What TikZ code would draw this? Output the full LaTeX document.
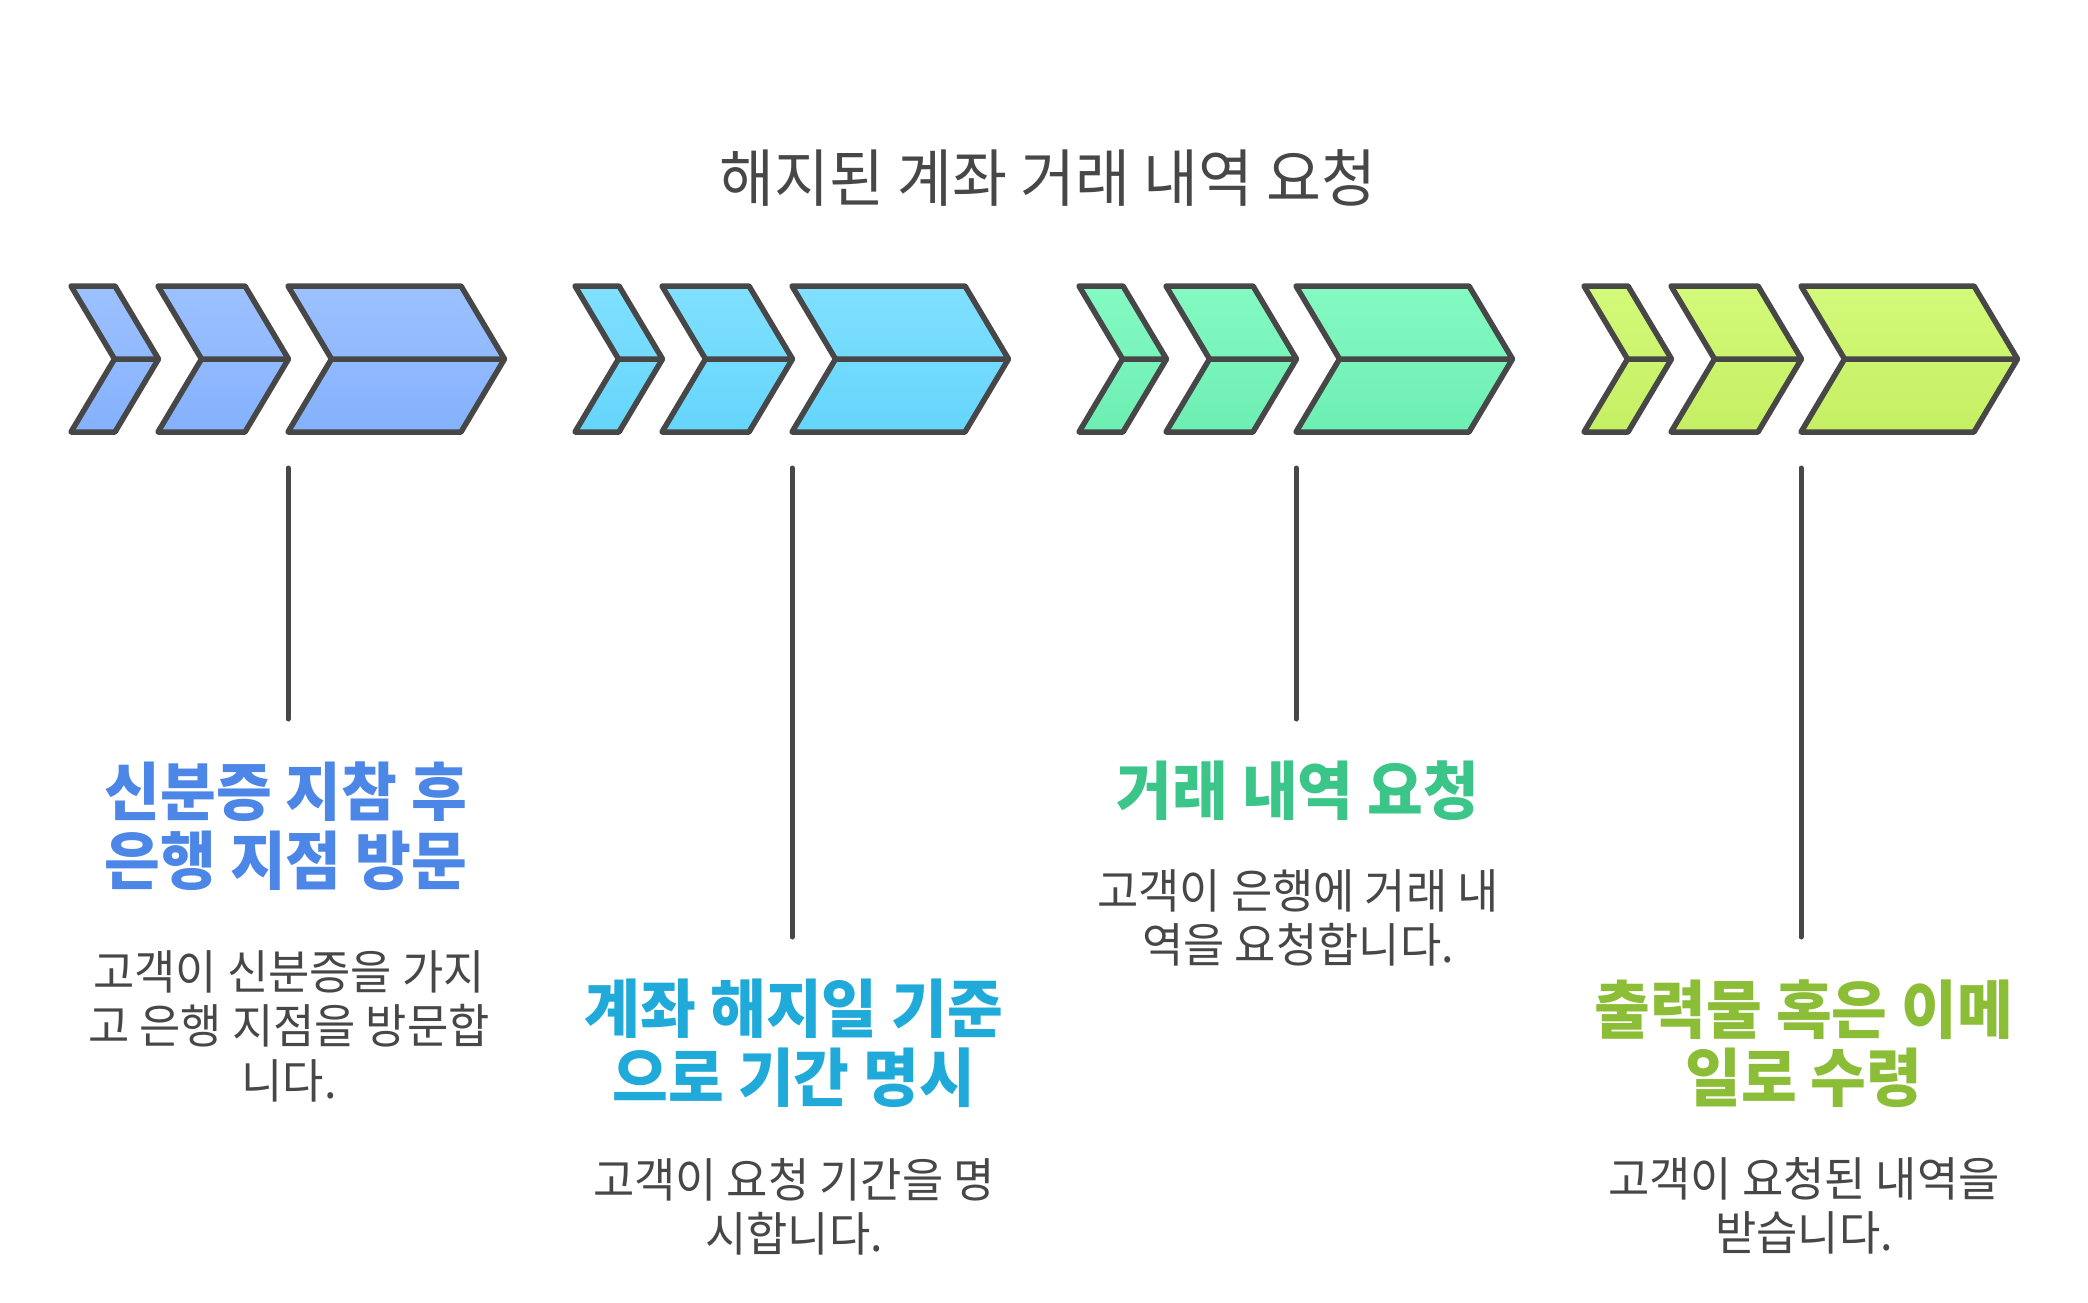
\documentclass[tikz,border=0pt]{standalone}
\usepackage{fontspec}
\setmainfont[FakeStretch=0.955]{Noto Sans CJK KR}
\definecolor{dark}{HTML}{474747}
\definecolor{blueTop}{HTML}{9DC1FF}
\definecolor{blueBot}{HTML}{84B1FD}
\definecolor{cyanTop}{HTML}{80E0FF}
\definecolor{cyanBot}{HTML}{65D5FB}
\definecolor{greenTop}{HTML}{84FAC2}
\definecolor{greenBot}{HTML}{6DEEB3}
\definecolor{limeTop}{HTML}{D3FA7A}
\definecolor{limeBot}{HTML}{C5EF63}
\definecolor{blueText}{HTML}{4C86E6}
\definecolor{cyanText}{HTML}{1FAAD9}
\definecolor{greenText}{HTML}{3BC589}
\definecolor{limeText}{HTML}{8CBD36}

\begin{document}
\begin{tikzpicture}[x=1pt, y=-1pt]
%	\draw[gray,very thin] (0,0) grid[step=100] (2088,1302); % Grid for easy orientation
	\tikzstyle{chev} = [
		draw=dark, line width=5.5pt, line join=round
	]
	\tikzstyle{stem} = [
		draw=dark, line width=5pt, line cap=round
	]
	\tikzstyle{title} = [
		inner sep=0, text=dark, font=\fontsize{62.5}{70}\selectfont
	]
	\tikzstyle{head} = [
		inner sep=0, anchor=north, align=center, font=\fontsize{63.5}{68.5}\selectfont\bfseries
	]
	\tikzstyle{desc} = [
		inner sep=0, anchor=north, align=center, text=dark, font=\fontsize{47}{54.5}\selectfont
	]

	\useasboundingbox (0,0) rectangle (2088,1302);

	% Title
	\node (Title) [title] at (1048,178) {해지된 계좌 거래 내역 요청};

	% Step 1 - chevrons
	\shadedraw[chev, top color=blueTop, bottom color=blueBot] (71,286) -- ++(44,0) -- ++(43.5,73) -- ++(-43.5,73) -- ++(-44,0) -- ++(43.5,-73) -- cycle (114.5,359) -- ++(44,0);
	\shadedraw[chev, top color=blueTop, bottom color=blueBot] (158,286) -- ++(87,0) -- ++(43.5,73) -- ++(-43.5,73) -- ++(-87,0) -- ++(43.5,-73) -- cycle (201.5,359) -- ++(87,0);
	\shadedraw[chev, top color=blueTop, bottom color=blueBot] (288,286) -- ++(173,0) -- ++(43.5,73) -- ++(-43.5,73) -- ++(-173,0) -- ++(43.5,-73) -- cycle (331.5,359) -- ++(173,0);

	% Step 2 - chevrons
	\shadedraw[chev, top color=cyanTop, bottom color=cyanBot] (575,286) -- ++(44,0) -- ++(43.5,73) -- ++(-43.5,73) -- ++(-44,0) -- ++(43.5,-73) -- cycle (618.5,359) -- ++(44,0);
	\shadedraw[chev, top color=cyanTop, bottom color=cyanBot] (662,286) -- ++(87,0) -- ++(43.5,73) -- ++(-43.5,73) -- ++(-87,0) -- ++(43.5,-73) -- cycle (705.5,359) -- ++(87,0);
	\shadedraw[chev, top color=cyanTop, bottom color=cyanBot] (792,286) -- ++(173,0) -- ++(43.5,73) -- ++(-43.5,73) -- ++(-173,0) -- ++(43.5,-73) -- cycle (835.5,359) -- ++(173,0);

	% Step 3 - chevrons
	\shadedraw[chev, top color=greenTop, bottom color=greenBot] (1079,286) -- ++(44,0) -- ++(43.5,73) -- ++(-43.5,73) -- ++(-44,0) -- ++(43.5,-73) -- cycle (1122.5,359) -- ++(44,0);
	\shadedraw[chev, top color=greenTop, bottom color=greenBot] (1166,286) -- ++(87,0) -- ++(43.5,73) -- ++(-43.5,73) -- ++(-87,0) -- ++(43.5,-73) -- cycle (1209.5,359) -- ++(87,0);
	\shadedraw[chev, top color=greenTop, bottom color=greenBot] (1296,286) -- ++(173,0) -- ++(43.5,73) -- ++(-43.5,73) -- ++(-173,0) -- ++(43.5,-73) -- cycle (1339.5,359) -- ++(173,0);

	% Step 4 - chevrons
	\shadedraw[chev, top color=limeTop, bottom color=limeBot] (1584,286) -- ++(44,0) -- ++(43.5,73) -- ++(-43.5,73) -- ++(-44,0) -- ++(43.5,-73) -- cycle (1627.5,359) -- ++(44,0);
	\shadedraw[chev, top color=limeTop, bottom color=limeBot] (1671,286) -- ++(87,0) -- ++(43.5,73) -- ++(-43.5,73) -- ++(-87,0) -- ++(43.5,-73) -- cycle (1714.5,359) -- ++(87,0);
	\shadedraw[chev, top color=limeTop, bottom color=limeBot] (1801,286) -- ++(173,0) -- ++(43.5,73) -- ++(-43.5,73) -- ++(-173,0) -- ++(43.5,-73) -- cycle (1844.5,359) -- ++(173,0);

	% Stems
	\coordinate (stem1_top) at (288,468);
	\coordinate (stem1_bot) at (288,719);
	\coordinate (stem2_top) at (792,468);
	\coordinate (stem2_bot) at (792,937);
	\coordinate (stem3_top) at (1296,468);
	\coordinate (stem3_bot) at (1296,719);
	\coordinate (stem4_top) at (1801,468);
	\coordinate (stem4_bot) at (1801,937);
	\draw[stem] (stem1_top) -- (stem1_bot);
	\draw[stem] (stem2_top) -- (stem2_bot);
	\draw[stem] (stem3_top) -- (stem3_bot);
	\draw[stem] (stem4_top) -- (stem4_bot);

	% Step 1 - texts
	\node (head1) [head, text=blueText] at (286,762) {신분증 지참 후\\은행 지점 방문};
	\node (desc1) [desc] at (289,950) {고객이 신분증을 가지\\고 은행 지점을 방문합\\니다.};

	% Step 2 - texts
	\node (head2) [head, text=cyanText] at (794,979) {계좌 해지일 기준\\으로 기간 명시};
	\node (desc2) [desc] at (794,1158) {고객이 요청 기간을 명\\시합니다.};

	% Step 3 - texts
	\node (head3) [head, text=greenText] at (1298,761) {거래 내역 요청};
	\node (desc3) [desc] at (1298,869) {고객이 은행에 거래 내\\역을 요청합니다.};

	% Step 4 - texts
	\node (head4) [head, text=limeText] at (1804,979) {출력물 혹은 이메\\일로 수령};
	\node (desc4) [desc] at (1804,1157) {고객이 요청된 내역을\\받습니다.};

\end{tikzpicture}
\end{document}
